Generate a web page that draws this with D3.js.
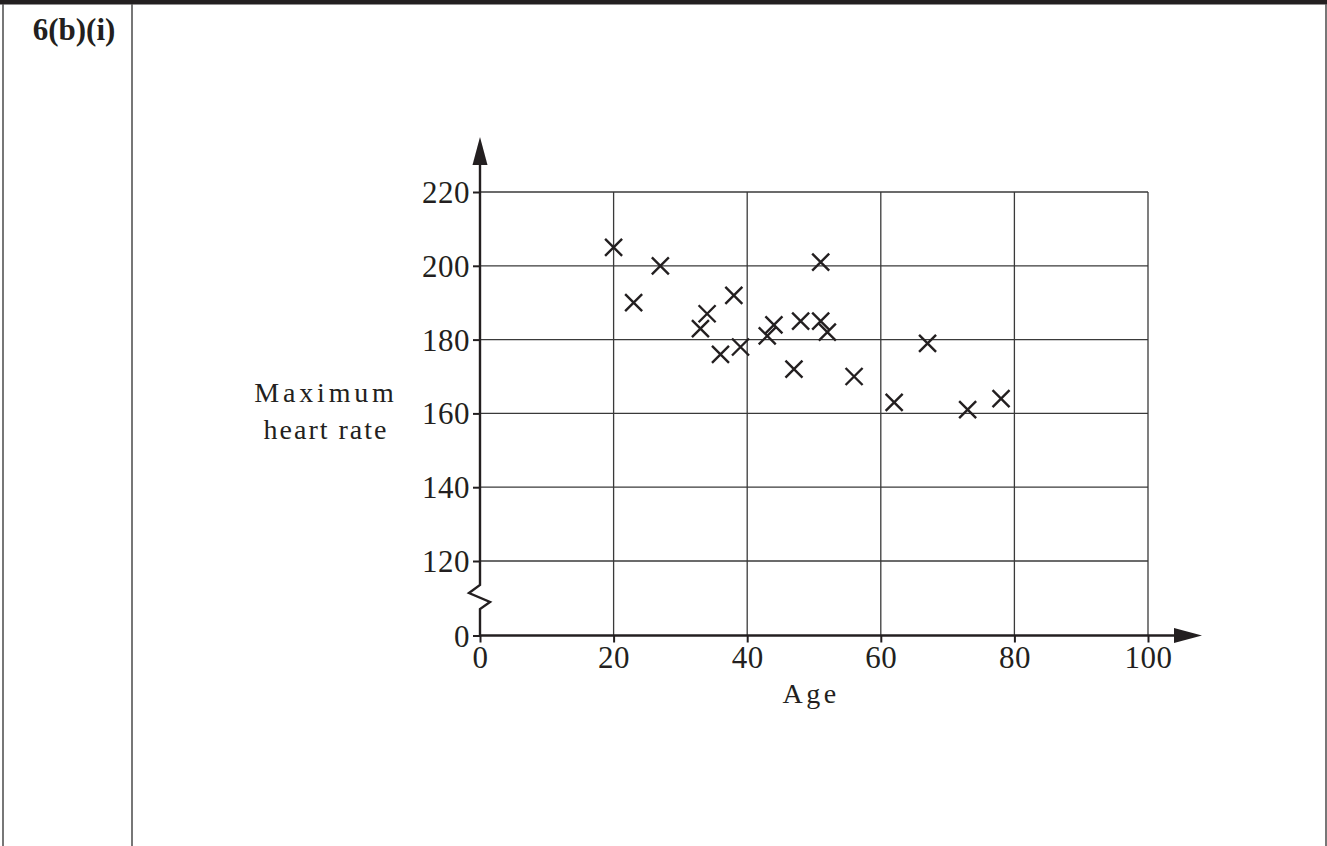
<!DOCTYPE html>
<html>
<head>
<meta charset="utf-8">
<script src="https://cdn.jsdelivr.net/npm/d3@7"></script>
<style>
  body { margin: 0; background: #fff; }
  text { font-family: "Liberation Serif", "DejaVu Serif", serif; fill: #231f20; }
</style>
</head>
<body>
<div id="chart"></div>
<script>
// scatter: age vs maximum heart rate
var ages = [20, 23, 27, 33, 34, 36, 38, 39, 43, 44, 47, 48, 51, 51, 52, 56, 62, 67, 73, 78];
var heartRates = [205, 190, 200, 183, 187, 176, 192, 178, 181, 184, 172, 185, 201, 185, 182, 170, 163, 179, 161, 164];
var xTicks = [0, 20, 40, 60, 80, 100];
var yTicks = [0, 120, 140, 160, 180, 200, 220];
var yGrid = [120, 140, 160, 180, 200, 220];
var xGrid = [20, 40, 60, 80, 100];

var svgWidth = 1327;
var svgHeight = 846;
var ink = "#231f20";

var svg = d3.select("#chart")
    .append("svg")
    .attr("width", svgWidth)
    .attr("height", svgHeight);

// table frame
svg.append("rect").attr("x", 0).attr("y", 0).attr("width", svgWidth).attr("height", 4.5).attr("fill", ink);
svg.append("line").attr("x1", 3).attr("x2", 3).attr("y1", 4).attr("y2", svgHeight)
    .attr("stroke", "#555").attr("stroke-width", 1.6);
svg.append("line").attr("x1", 132).attr("x2", 132).attr("y1", 4).attr("y2", svgHeight)
    .attr("stroke", "#555").attr("stroke-width", 1.6);
svg.append("line").attr("x1", 1326).attr("x2", 1326).attr("y1", 4).attr("y2", svgHeight)
    .attr("stroke", "#555").attr("stroke-width", 1.6);

svg.append("text")
    .attr("x", 74).attr("y", 40)
    .attr("text-anchor", "middle")
    .attr("font-size", "31px")
    .attr("font-weight", "700")
    .text("6(b)(i)");

// scales (y axis is broken between 0 and 120)
var xScale = d3.scaleLinear().domain([0, 100]).range([480, 1148]);
var yScale = d3.scaleLinear().domain([0, 120, 220]).range([635.5, 561, 192]);

var chart = svg.append("g");

// grid
chart.append("g").selectAll("line")
    .data(yGrid)
    .enter()
    .append("line")
    .attr("x1", xScale(0)).attr("x2", xScale(100))
    .attr("y1", d => yScale(d)).attr("y2", d => yScale(d))
    .attr("stroke", "#3a3a3a").attr("stroke-width", 1.3);

chart.append("g").selectAll("line")
    .data(xGrid)
    .enter()
    .append("line")
    .attr("x1", d => xScale(d)).attr("x2", d => xScale(d))
    .attr("y1", yScale(220)).attr("y2", yScale(0))
    .attr("stroke", "#3a3a3a").attr("stroke-width", 1.3);

// axes with ticks
var bottomAxis = d3.axisBottom(xScale).tickValues(xTicks).tickSize(7).tickPadding(4);
var leftAxis = d3.axisLeft(yScale).tickValues(yTicks).tickSize(7).tickPadding(3);

var gx = chart.append("g")
    .attr("transform", `translate(0, ${yScale(0)})`)
    .call(bottomAxis);
var gy = chart.append("g")
    .attr("transform", `translate(${xScale(0)}, 0)`)
    .call(leftAxis);

[gx, gy].forEach(function (g) {
    g.select(".domain").remove();
    g.selectAll(".tick line").attr("stroke", ink).attr("stroke-width", 2);
    g.selectAll(".tick text")
        .attr("fill", ink)
        .attr("font-family", "Liberation Serif, serif")
        .attr("font-size", "31px")
        .attr("letter-spacing", "0.5px");
});
gx.selectAll(".tick text").attr("dy", "0.7em");
gy.selectAll(".tick text").attr("dy", "0.34em");

// x axis line and arrow
var x0 = xScale(0), y0 = yScale(0);
chart.append("line")
    .attr("x1", x0 - 1).attr("x2", 1176)
    .attr("y1", y0).attr("y2", y0)
    .attr("stroke", ink).attr("stroke-width", 2.6);
chart.append("path")
    .attr("d", `M1174,${y0 - 7.5}L1202,${y0}L1174,${y0 + 7.5}Z`)
    .attr("fill", ink);

// y axis line with break and arrow
var yAxisLine = d3.line();
chart.append("path")
    .attr("d", yAxisLine([[x0, y0 + 1], [x0, 609], [x0 + 10, 602], [x0 - 11, 593], [x0, 585], [x0, 163]]))
    .attr("fill", "none")
    .attr("stroke", ink).attr("stroke-width", 2.4)
    .attr("stroke-linejoin", "miter");
chart.append("path")
    .attr("d", `M${x0 - 7.5},165L${x0},137L${x0 + 7.5},165Z`)
    .attr("fill", ink);

// points as crosses
var arm = 8.5;
var pts = chart.append("g").selectAll("g")
    .data(ages.map((a, i) => ({ age: a, hr: heartRates[i] })))
    .enter()
    .append("g")
    .attr("transform", d => `translate(${xScale(d.age)}, ${yScale(d.hr)})`);
pts.append("path")
    .attr("d", `M${-arm},${-arm}L${arm},${arm}M${-arm},${arm}L${arm},${-arm}`)
    .attr("stroke", ink)
    .attr("stroke-width", 2.4)
    .attr("fill", "none");

// labels
var yLabel = svg.append("text")
    .attr("text-anchor", "middle")
    .attr("font-size", "28px")
    .attr("letter-spacing", "3.8px");
yLabel.append("tspan").attr("x", 326).attr("y", 402).text("Maximum");
yLabel.append("tspan").attr("x", 326).attr("y", 439).attr("letter-spacing", "2px").text("heart rate");

svg.append("text")
    .attr("x", 811).attr("y", 703)
    .attr("text-anchor", "middle")
    .attr("font-size", "28px")
    .attr("letter-spacing", "3.5px")
    .text("Age");
</script>
</body>
</html>
